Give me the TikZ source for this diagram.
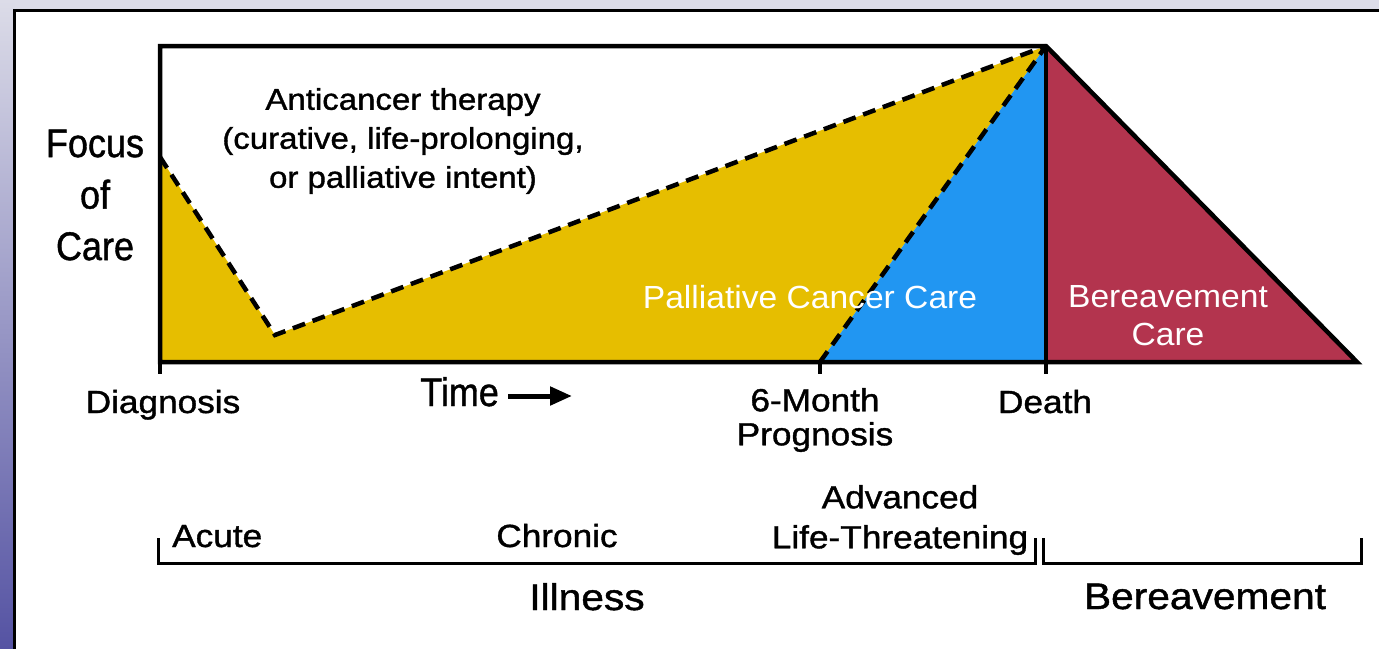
\documentclass[tikz,border=0pt]{standalone}
\usepackage{fontspec}
\setmainfont{Liberation Sans}
\newfontfamily\lblfont[FakeStretch=1.1,FakeBold=1.2]{Liberation Sans}
\newfontfamily\whtfont[FakeStretch=1.05]{Liberation Sans}
\newfontfamily\axisfont[FakeStretch=0.9,FakeBold=1]{Liberation Sans}
\usetikzlibrary{
  arrows.meta,
  positioning,  % Function "of" (e.g. [right=of x])
}
\definecolor{careyellow}{HTML}{E6BE00}
\definecolor{careblue}{HTML}{2196F2}
\definecolor{carered}{HTML}{B3344E}
\definecolor{framelav}{HTML}{DCDCE8}
\definecolor{framepurple}{HTML}{5553A3}
\def\mylw{4.5pt}
\def\mytick{12}
\def\mybracket{25}
\tikzset{
  >=stealth,
  my label/.style={
    font=\lblfont\fontsize{32}{39}\selectfont,
    inner sep=0pt,
    align=center
  },
  my white label/.style={
    my label,
    font=\whtfont\fontsize{32}{38}\selectfont,
    text=white
  },
  my big label/.style={
    font=\lblfont\fontsize{37}{44}\selectfont,
    inner sep=0pt
  },
  my axis label/.style={
    font=\axisfont\fontsize{40}{51.5}\selectfont,
    inner sep=0pt,
    align=center
  },
  my frame/.style={
    line width=\mylw,
    line join=miter
  },
  my dash/.style={
    dash pattern=on 13pt off 8pt,
    line width=4.5pt
  },
  my bracket/.style={
    line width=3pt
  },
  time arrow/.style={
    line width=5pt,
    -{Triangle[length=22pt,width=18pt]}
  }
}
\begin{document}
\begin{tikzpicture}[x=1pt,y=-1pt]
\useasboundingbox (0,0) rectangle (1379,648);
% slide background
\fill[framelav] (0,0) rectangle (1379,648);
\shade[top color=framelav,bottom color=framepurple] (0,0) rectangle (14,648);
\draw[line width=3pt,fill=white] (14.5,10.5) rectangle (1400,670);
% chart points
\coordinate (origin) at (160,362);
\coordinate (corner) at (160,46);
\coordinate (start)  at (160,157);
\coordinate (dip)    at (275,335);
\coordinate (peak)   at (1046,46);
\coordinate (prog)   at (820,362);
\coordinate (death)  at (1046,362);
\coordinate (end)    at (1357,362);
% areas
\fill[careyellow] (start) -- (dip) -- (peak) -- (prog) -- (origin) -- cycle;
\fill[careblue]   (prog) -- (peak) -- (death) -- cycle;
\fill[carered]    (peak) -- (end) -- (death) -- cycle;
\draw[my dash] (start) -- (dip) -- (peak);
\draw[my dash] (prog) -- (peak);
\draw[my frame] (origin) -- (corner) -- (peak) -- (end) -- cycle;
\draw[my frame] (peak) -- (death) -- ++(0,\mytick);
\draw[my frame] (origin) -- ++(0,\mytick);
\draw[my frame] (prog) -- ++(0,\mytick);
% labels
\node[my axis label] (focus) at (95,195) {Focus\\of\\Care};
\node[my label,font=\lblfont\fontsize{30}{39}\selectfont]
  (therapy) at (403,141) {Anticancer therapy\\(curative, life-prolonging,\\or palliative intent)};
\node[my white label,anchor=base] (palliative) at (810,308) {Palliative Cancer Care};
\node[my white label] (bcare) at (1168,316) {Bereavement\\Care};
\node[my label,anchor=base] (diagnosis) at (163,413) {Diagnosis};
\node[my axis label,anchor=base west] (time) at (420,406) {Time};
\coordinate (timeA) at (508,396);
\coordinate (timeB) at (572,396);
\draw[time arrow] (timeA) -- (timeB);
\node[my label,font=\lblfont\fontsize{32}{34}\selectfont]
  (prognosis) at (815,420) {6-Month\\Prognosis};
\node[my label,anchor=base] (deathlbl) at (1045,413) {Death};
\node[my label,font=\lblfont\fontsize{32}{40}\selectfont]
  (advanced) at (900,520) {Advanced\\Life-Threatening};
\node[my label,anchor=base west] (acute) at (172,547) {Acute};
\node[my label,anchor=base] (chronic) at (557,547) {Chronic};
% brackets
\coordinate (illA) at (158,563);
\coordinate (illB) at (1035,563);
\coordinate (berA) at (1043,563);
\coordinate (berB) at (1361,563);
\draw[my bracket] (illA) ++(0,-\mybracket) -- (illA) -- (illB) -- ++(0,-\mybracket);
\draw[my bracket] (berA) ++(0,-\mybracket) -- (berA) -- (berB) -- ++(0,-\mybracket);
\node[my big label,anchor=base] (illness) at (587,610) {Illness};
\node[my big label,anchor=base] (bereavement) at (1205,609) {Bereavement};
\end{tikzpicture}
\end{document}
